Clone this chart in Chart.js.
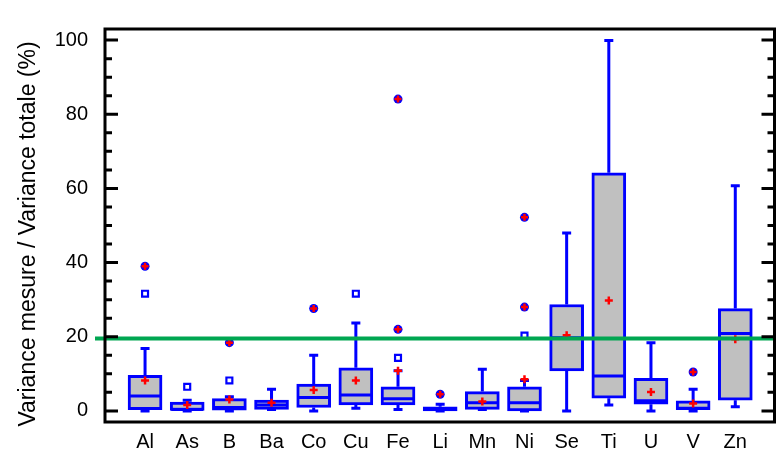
<!DOCTYPE html>
<html>
<head>
<meta charset="utf-8">
<script src="https://cdn.jsdelivr.net/npm/chart.js@4"></script>
<style>
  body { margin: 0; background: #fff; }
  #wrap { width: 781px; height: 462px; }
</style>
</head>
<body>
<div id="wrap"><canvas id="boxChart"></canvas></div>
<script>
  const elements = ['Al', 'As', 'B', 'Ba', 'Co', 'Cu', 'Fe', 'Li', 'Mn', 'Ni', 'Se', 'Ti', 'U', 'V', 'Zn'];
  const whiskerLow  = [0,    0,   0,   0.4, 0,   0.7,  0.4, 0,   0.4, 0,   0,    1.6,  0,    0,   1.1];
  const q1          = [0.3,  0.1, 0.2, 0.4, 0.9, 1.6,  1.6, 0,   0.4, 0,   10.8, 3.4,  1.8,  0.3, 2.9];
  const median      = [4.0,  0.4, 0.9, 1.6, 3.6, 4.3,  3.3, 0.5, 2.2, 2.2, 19.7, 9.4,  2.7,  0.7, 20.9];
  const q3          = [9.6,  2.4, 3.3, 2.9, 7.2, 11.6, 6.5, 1.1, 5.2, 6.5, 28.7, 64.2, 8.8,  2.7, 27.6];
  const whiskerHigh = [16.8, 2.9, 3.8, 5.8, 15,  23.7, 10.8, 1.8, 11.2, 8.2, 48,  99.9, 18.4, 5.8, 60.7];
  const means       = [8.2,  1.6, 3.1, 2.2, 5.6, 8.2,  10.8, null, 2.5, 8.5, 20.4, 29.8, 5.1, 2.0, 19.3];
  const outliersOpen = [[31.6], [6.5], [8.2], [], [], [31.6], [14.3], [], [], [20.3], [], [], [], [], []];
  const outliersFull = [[39], [], [18.4], [], [27.6], [], [22, 84.1], [4.5], [], [28, 52.2], [], [], [], [10.5], []];
  const yTicks = [0, 20, 40, 60, 80, 100];
  const threshold = 19.5;

  const blue = '#0000ff';
  const boxWidth = 34;

  const openPts = outliersOpen.flatMap((vals, i) => vals.map(v => ({x: i, y: v})));
  const fullPts = outliersFull.flatMap((vals, i) => vals.map(v => ({x: i, y: v})));

  const boxParts = {
    id: 'boxParts',
    afterDatasetDraw(chart, args) {
      if (args.index !== 0) return;
      const {ctx, scales: {x, y}} = chart;
      ctx.save();
      ctx.strokeStyle = blue;
      ctx.lineWidth = 3;
      ctx.beginPath();
      elements.forEach((el, i) => {
        const cx = x.getPixelForValue(i);
        const half = boxWidth / 2 - 1;
        const ym = y.getPixelForValue(median[i]);
        ctx.moveTo(cx - half, ym);
        ctx.lineTo(cx + half, ym);
        const yq3 = y.getPixelForValue(q3[i]);
        const yHi = y.getPixelForValue(whiskerHigh[i]);
        const yq1 = y.getPixelForValue(q1[i]);
        const yLo = y.getPixelForValue(whiskerLow[i]);
        ctx.moveTo(cx, yq3);
        ctx.lineTo(cx, yHi);
        ctx.moveTo(cx - 4.5, yHi);
        ctx.lineTo(cx + 4.5, yHi);
        ctx.moveTo(cx, yq1);
        ctx.lineTo(cx, yLo);
        ctx.moveTo(cx - 4.5, yLo);
        ctx.lineTo(cx + 4.5, yLo);
      });
      ctx.stroke();
      ctx.restore();
    },
    afterDatasetsDraw(chart) {
      const {ctx, chartArea, scales: {y}} = chart;
      const yt = y.getPixelForValue(threshold);
      ctx.save();
      ctx.strokeStyle = '#00a651';
      ctx.lineWidth = 4;
      ctx.beginPath();
      ctx.moveTo(chartArea.left - 10, yt);
      ctx.lineTo(chartArea.right, yt);
      ctx.stroke();
      ctx.restore();
    },
    afterDraw(chart) {
      const {ctx, chartArea: {left, right, top, bottom}, scales: {y}} = chart;
      ctx.save();
      ctx.strokeStyle = '#000';
      ctx.lineWidth = 3;
      ctx.beginPath();
      ctx.rect(left, top, right - left, bottom - top);
      for (let v = 0; v <= 100; v += 5) {
        const py = y.getPixelForValue(v);
        const major = v % 20 === 0;
        ctx.moveTo(left, py);
        ctx.lineTo(left + (major ? 13 : 7), py);
        ctx.moveTo(right, py);
        ctx.lineTo(right - (major ? 13 : 7), py);
      }
      ctx.stroke();
      // axis title
      ctx.fillStyle = '#000';
      ctx.font = '23px "Liberation Sans", Arial, sans-serif';
      ctx.textAlign = 'center';
      ctx.textBaseline = 'middle';
      ctx.translate(29, 234);
      ctx.rotate(-Math.PI / 2);
      ctx.fillText('Variance mesure / Variance totale (%)', 0, 0);
      ctx.restore();
    }
  };

  const font = {family: '"Liberation Sans", Arial, sans-serif', size: 20};

  new Chart(document.getElementById('boxChart'), {
    type: 'bar',
    data: {
      datasets: [{
        data: elements.map((el, i) => ({x: i, y: [q1[i], q3[i]]})),
        backgroundColor: '#c0c0c0',
        borderColor: blue,
        borderWidth: 3,
        borderSkipped: false,
        barThickness: boxWidth,
        grouped: false,
        order: 5
      }, {
        type: 'scatter',
        data: openPts,
        pointStyle: 'rect',
        pointRadius: 4.2,
        backgroundColor: '#fff',
        borderColor: blue,
        borderWidth: 2.2,
        order: 4
      }, {
        type: 'scatter',
        data: fullPts,
        pointStyle: 'circle',
        pointRadius: 4.5,
        backgroundColor: blue,
        borderColor: blue,
        borderWidth: 0,
        order: 3
      }, {
        type: 'scatter',
        data: fullPts,
        pointStyle: 'cross',
        pointRadius: 3.5,
        borderColor: '#ff0000',
        borderWidth: 2.5,
        order: 2
      }, {
        type: 'scatter',
        data: means.map((m, i) => ({x: i, y: m})),
        pointStyle: 'cross',
        pointRadius: 4,
        borderColor: '#ff0000',
        borderWidth: 2.5,
        order: 1
      }]
    },
    options: {
      responsive: true,
      maintainAspectRatio: false,
      animation: false,
      layout: {padding: {top: 27, right: 0, left: 0, bottom: 0}},
      plugins: {legend: {display: false}, tooltip: {enabled: false}},
      scales: {
        x: {
          type: 'linear',
          offset: false,
          min: -0.95,
          max: 14.93,
          grid: {display: false, drawTicks: false},
          border: {display: false},
          afterBuildTicks: scale => { scale.ticks = elements.map((el, i) => ({value: i})); },
          afterFit: scale => { scale.height = 40; },
          ticks: {
            autoSkip: false,
            maxRotation: 0,
            padding: 8,
            color: '#000',
            font: font,
            callback: v => elements[v]
          }
        },
        y: {
          min: -3,
          max: 103,
          grid: {display: false, drawTicks: false},
          border: {display: false},
          afterBuildTicks: scale => { scale.ticks = yTicks.map(v => ({value: v})); },
          afterFit: scale => { scale.width = 105; },
          ticks: {padding: 17, color: '#000', font: font}
        }
      }
    },
    plugins: [boxParts]
  });
</script>
</body>
</html>
